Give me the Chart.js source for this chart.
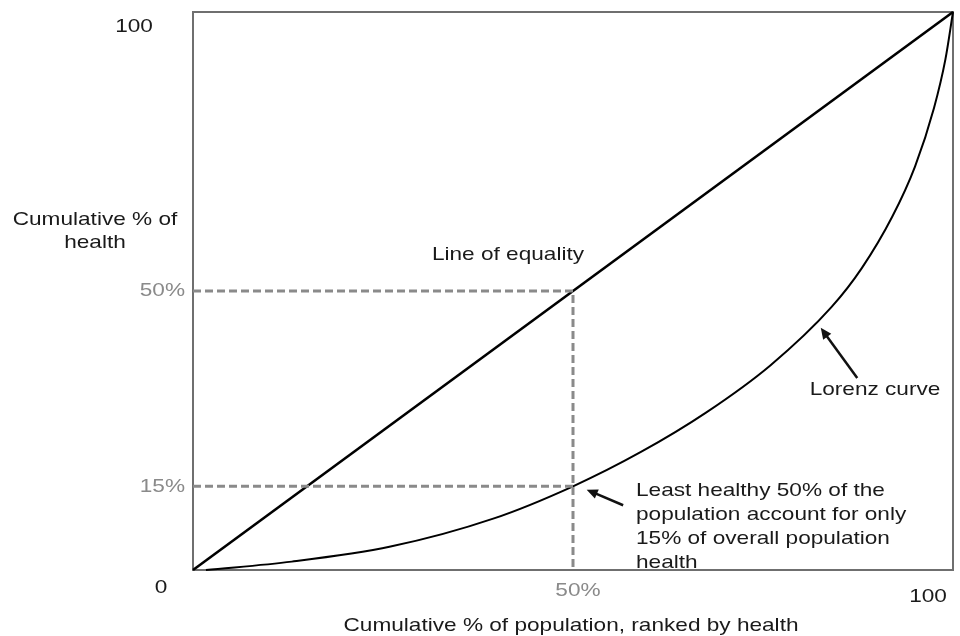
<!DOCTYPE html>
<html>
<head>
<meta charset="utf-8">
<script src="https://cdn.jsdelivr.net/npm/chart.js@4"></script>
<style>
  html, body { margin: 0; padding: 0; background: #fff; }
  #lorenz { display: block; }
</style>
</head>
<body>
<canvas id="lorenz" width="960" height="636"></canvas>
<script>
// values (percent)
const populationPct = [1.7, 13, 26, 39.5, 50, 59, 67.5, 76, 84, 88, 92, 95, 97.5, 99, 100];
const healthPct = [0, 1.5, 4.2, 9.2, 15, 21.2, 28.2, 36.7, 47.1, 54.1, 63.3, 72.3, 82.8, 91.5, 100];
const equalityPct = [0, 100];
const highlightPop = 50;
const highlightHealth = [50, 15];

const yTickValues = [100, 50, 15, 0];
const yTickLabels = ["100", "50%", "15%", "0"];
const xTickValues = [50, 100];
const xTickLabels = ["50%", "100"];

const FONT = "Liberation Sans, Arial, Helvetica, sans-serif";
const SX = 1.19; // text in the source is a bit stretched sideways
const GREY = "#8a8a8a";
const INK = "#1a1a1a";

function drawText(ctx, text, x, y, align, color, size) {
  ctx.save();
  ctx.translate(x, y);
  ctx.scale(SX, 1);
  ctx.font = (size || 19) + "px " + FONT;
  ctx.fillStyle = color;
  ctx.textAlign = align;
  ctx.textBaseline = "middle";
  ctx.fillText(text, 0, 0);
  ctx.restore();
}

function drawArrow(ctx, x1, y1, x2, y2) {
  // from tail (x1,y1) to head (x2,y2)
  const ang = Math.atan2(y2 - y1, x2 - x1);
  const len = 11, half = 5;
  ctx.save();
  ctx.strokeStyle = "#111";
  ctx.fillStyle = "#111";
  ctx.lineWidth = 2.5;
  ctx.beginPath();
  ctx.moveTo(x1, y1);
  ctx.lineTo(x2 - Math.cos(ang) * len * 0.8, y2 - Math.sin(ang) * len * 0.8);
  ctx.stroke();
  ctx.beginPath();
  ctx.moveTo(x2, y2);
  ctx.lineTo(x2 - Math.cos(ang) * len - Math.sin(ang) * half, y2 - Math.sin(ang) * len + Math.cos(ang) * half);
  ctx.lineTo(x2 - Math.cos(ang) * len + Math.sin(ang) * half, y2 - Math.sin(ang) * len - Math.cos(ang) * half);
  ctx.closePath();
  ctx.fill();
  ctx.restore();
}

const frameBox = {
  id: "frameBox",
  beforeDatasetsDraw(chart) {
    const { ctx, chartArea: a } = chart;
    ctx.save();
    ctx.strokeStyle = "#6f6f6f";
    ctx.lineWidth = 2;
    ctx.strokeRect(a.left, a.top, a.right - a.left, a.bottom - a.top);
    ctx.restore();
  }
};

const labelsPlugin = {
  id: "labelsPlugin",
  afterDraw(chart) {
    const { ctx } = chart;
    const x = chart.scales.x, y = chart.scales.y;
    const left = x.getPixelForValue(0);

    // y axis labels
    yTickValues.forEach((v, i) => {
      const py = y.getPixelForValue(v);
      const txt = yTickLabels[i];
      if (txt === "100") drawText(ctx, txt, left - 59, py + 15, "center", INK);
      else if (txt === "0") drawText(ctx, txt, left - 32, py + 18, "center", INK);
      else drawText(ctx, txt, left - 8, py, "right", GREY);
    });
    // x axis labels
    xTickValues.forEach((v, i) => {
      const px = x.getPixelForValue(v);
      const txt = xTickLabels[i];
      if (txt === "100") drawText(ctx, txt, px - 25, y.getPixelForValue(0) + 27, "center", INK);
      else drawText(ctx, txt, px + 5, y.getPixelForValue(0) + 21, "center", GREY);
    });

    // axis titles
    drawText(ctx, "Cumulative % of", 95, 220, "center", INK);
    drawText(ctx, "health", 95, 243, "center", INK);
    drawText(ctx, "Cumulative % of population, ranked by health", 571, 626, "center", INK);

    // annotations
    drawText(ctx, "Line of equality", 508, 255, "center", INK);
    drawText(ctx, "Lorenz curve", 875, 390, "center", INK);
    const note = ["Least healthy 50% of the", "population account for only", "15% of overall population", "health"];
    note.forEach((line, i) => drawText(ctx, line, 636, 491 + i * 24, "left", INK));

    drawArrow(ctx, x.getPixelForValue(56.6), y.getPixelForValue(11.6), x.getPixelForValue(51.8), y.getPixelForValue(14.4));
    drawArrow(ctx, x.getPixelForValue(87.4), y.getPixelForValue(34.4), x.getPixelForValue(82.6), y.getPixelForValue(43.4));
  }
};

const lorenzPoints = populationPct.map((p, i) => ({ x: p, y: healthPct[i] }));
const equalityPoints = equalityPct.map(v => ({ x: v, y: v }));

new Chart(document.getElementById("lorenz"), {
  type: "line",
  data: {
    datasets: [
      {
        label: "50% guide",
        data: [{ x: 0, y: highlightHealth[0] }, { x: highlightPop, y: highlightHealth[0] }, { x: highlightPop, y: 0 }],
        borderColor: GREY,
        borderWidth: 3,
        borderDash: [8, 4],
        pointRadius: 0,
        tension: 0,
        clip: 4,
      },
      {
        label: "15% guide",
        data: [{ x: 0, y: highlightHealth[1] }, { x: highlightPop, y: highlightHealth[1] }],
        borderColor: GREY,
        borderWidth: 3,
        borderDash: [8, 4],
        pointRadius: 0,
        tension: 0,
        clip: 4,
      },
      {
        label: "Line of equality",
        data: equalityPoints,
        borderColor: "#000",
        borderWidth: 2.6,
        pointRadius: 0,
        tension: 0,
        clip: 4,
      },
      {
        label: "Lorenz curve",
        data: lorenzPoints,
        borderColor: "#000",
        borderWidth: 2,
        pointRadius: 0,
        cubicInterpolationMode: "monotone",
        clip: 4,
      },
    ],
  },
  options: {
    responsive: false,
    animation: false,
    layout: {
      padding: { left: 193, top: 12, right: 7, bottom: 66 },
    },
    scales: {
      x: { type: "linear", min: 0, max: 100, display: false },
      y: { type: "linear", min: 0, max: 100, display: false },
    },
    plugins: {
      legend: { display: false },
      tooltip: { enabled: false },
    },
  },
  plugins: [frameBox, labelsPlugin],
});
</script>
</body>
</html>
